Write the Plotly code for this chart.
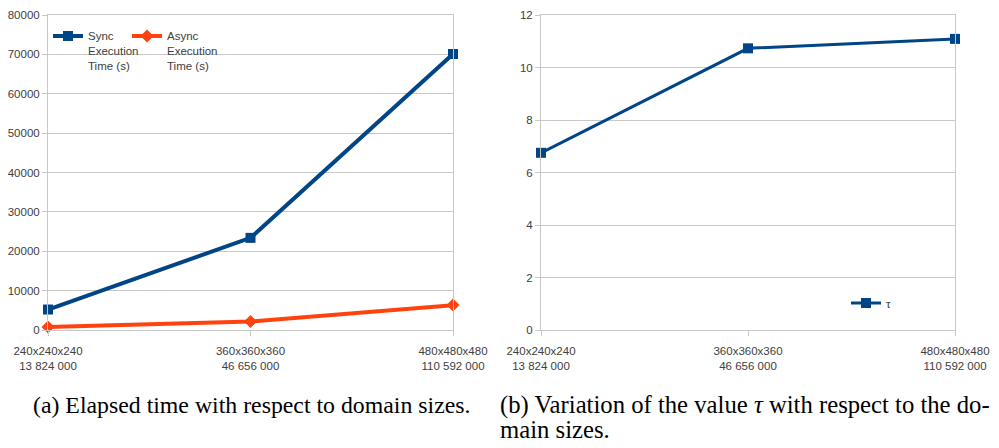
import plotly.graph_objects as go

categories = ["240x240x240<br>13 824 000", "360x360x360<br>46 656 000", "480x480x480<br>110 592 000"]
sync_time = [5200, 23400, 70100]
async_time = [770, 2180, 6320]
tau = [6.75, 10.73, 11.09]

BLUE = "#004586"
ORANGE = "#ff420e"
GRID = "#c8c8c8"
SANS = "Liberation Sans, Arial, sans-serif"
TICKF = dict(family=SANS, size=11.5, color="#404040")
SERIF = "Liberation Serif, Times New Roman, serif"

fig = go.Figure()
fig.add_trace(go.Scatter(x=categories, y=sync_time, name="Sync<br>Execution<br>Time (s)",
                         mode="lines+markers", line=dict(color=BLUE, width=4),
                         marker=dict(symbol="square", size=10, color=BLUE),
                         cliponaxis=False, xaxis="x", yaxis="y", legend="legend"))
fig.add_trace(go.Scatter(x=categories, y=async_time, name="Async<br>Execution<br>Time (s)",
                         mode="lines+markers", line=dict(color=ORANGE, width=4),
                         marker=dict(symbol="diamond", size=10, color=ORANGE),
                         cliponaxis=False, xaxis="x", yaxis="y", legend="legend3"))
fig.add_trace(go.Scatter(x=categories, y=tau, name="τ",
                         mode="lines+markers", line=dict(color=BLUE, width=3),
                         marker=dict(symbol="square", size=10, color=BLUE),
                         cliponaxis=False, xaxis="x2", yaxis="y2", legend="legend2"))

W, H = 999, 448
OFF = 8  # page body margin


def px(xpage):
    return (xpage - OFF) / W


def py(ypage):
    return (H - (ypage - OFF)) / H


ydom = [py(330), py(15)]

axis_common = dict(showline=True, linecolor=GRID, linewidth=1, mirror=True, automargin=False,
                   ticks="outside", tickcolor=GRID, ticklen=5, tickfont=TICKF, zeroline=False)

LEGF = dict(family=SANS, size=11.5, color="#404040")

fig.update_layout(
    width=W, height=H, margin=dict(l=0, r=0, t=0, b=0, autoexpand=False),
    paper_bgcolor="white", plot_bgcolor="white",
    xaxis=dict(domain=[px(48), px(453)], anchor="y", type="category", range=[0, 2],
               showgrid=False, ticklabelstandoff=5, **axis_common),
    yaxis=dict(domain=ydom, anchor="x", range=[0, 80000], dtick=10000, tickformat="d",
               showgrid=True, gridcolor=GRID, gridwidth=1, **axis_common),
    xaxis2=dict(domain=[px(541), px(955)], anchor="y2", type="category", range=[0, 2],
                showgrid=False, ticklabelstandoff=5, **axis_common),
    yaxis2=dict(domain=ydom, anchor="x2", range=[0, 12], dtick=2,
                showgrid=True, gridcolor=GRID, gridwidth=1, **axis_common),
    legend=dict(orientation="v", x=px(48), y=py(22), xanchor="left", yanchor="top",
                bgcolor="rgba(0,0,0,0)", valign="top", font=LEGF),
    legend3=dict(orientation="v", x=px(127), y=py(22), xanchor="left", yanchor="top",
                 bgcolor="rgba(0,0,0,0)", valign="top", font=LEGF),
    legend2=dict(orientation="h", x=px(846), y=py(303), xanchor="left", yanchor="middle",
                 bgcolor="rgba(0,0,0,0)", font=LEGF),
    showlegend=True,
)

fig.add_annotation(text="(a) Elapsed time with respect to domain sizes.", xref="paper", yref="paper",
                   x=px(251), y=py(405), xanchor="center", yanchor="middle",
                   showarrow=False, font=dict(family=SERIF, size=23.8, color="black"))
fig.add_annotation(text="(b) Variation of the value <i>τ</i> with respect to the do-",
                   xref="paper", yref="paper", x=px(498), y=py(405), xanchor="left", yanchor="middle",
                   align="left", showarrow=False, font=dict(family=SERIF, size=24.7, color="black"))
fig.add_annotation(text="main sizes.",
                   xref="paper", yref="paper", x=px(498), y=py(429), xanchor="left", yanchor="middle",
                   align="left", showarrow=False, font=dict(family=SERIF, size=24.7, color="black"))

fig.write_html("out.html")
